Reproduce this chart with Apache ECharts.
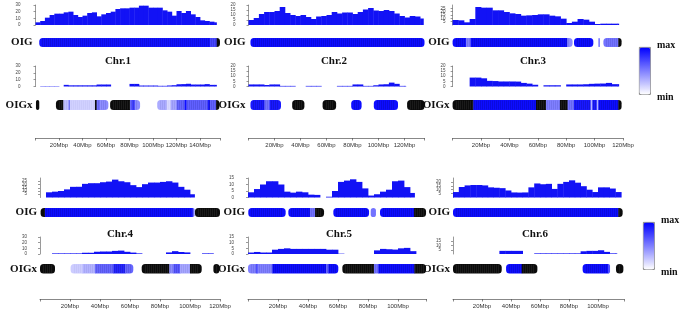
<!DOCTYPE html>
<html><head><meta charset="utf-8">
<script src="https://cdn.jsdelivr.net/npm/echarts@6/dist/echarts.min.js"></script>
<style>html,body{margin:0;padding:0;background:#fff}#c{width:685px;height:314px}</style>
</head><body><div id="c"></div>
<script>
// ---------------- DATA ----------------
const chrNames = ['Chr.1','Chr.2','Chr.3','Chr.4','Chr.5','Chr.6'];
const chrLengths = [157, 135.4, 120, 120, 119, 118];          // Mbp (axis extent)
const tickStep = 20;                                            // Mbp between x tick labels
const binSize = 4;                                              // Mbp per coverage bin
// OIG coverage per 4-Mbp bin (bin 0 starts at 0 Mbp); null = no data
const oigCov1 = [4,6,11,15,17,17,19,20,15,12,14,18,19,13,16,18,20,24,25,25,26,26,29,29,26,26,26,22,20,14,21,18,21,16,12,7,6,5,4];
const oigCov2 = [5,7,11,13,13,14,18,12,10,9,10,8,6,8.5,9,10,13,11.5,12.5,12.5,11,13,15.5,17,14.5,14,15,14,11.5,9,7.5,9,8.5,6.5];
const oigCov3 = [7.5,7,4,9,27,26,26,22,22,19.5,17.5,16.5,14,14.5,15,16,16,14,13,9.5,3,5,9,8,5,1.5,2,2,2,2];
const oigCov4 = [null,8,9,10,12.5,16.4,16.5,21,22,22,23.5,24.5,27.5,25,23.5,19,16,20.5,23,23,24,25,23,16.4,12,5];
const oigCov5 = [4,6.5,10,12.5,12.5,10,4.5,3.75,4.5,4,2.2,2,null,0.6,5,12,13,14,12,7,1.5,2.5,4.5,6,12.5,13,8,3.5];
const oigCov6 = [7,13.5,15.5,16,16,15.5,13,12.5,12,9,6.5,6.3,6.5,13,18,17,17.5,11,17.5,20,22,19,14.5,10,7,13,13,11.5,7];
const oigCovEnd = [154, 134.5, 117, 103, 111, 116];
// OIGx coverage per 4-Mbp bin
const oigxCov1 = [null,0.5,0.5,0.5,0.5,null,2.4,1.7,1.7,1.7,1.7,1.7,1.7,2.9,2.9,2.9,null,null,null,null,3.8,3.8,1.4,1.4,1.4,1.4,1,1,1.5,1.9,3.3,3.5,4,2.9,2.9,2.9,3.5,2.4,2.4];
const oigxCov2 = [2,2,2,1.45,2,2,0.6,0.6,0.6,null,null,0.6,0.6,0.6,null,null,null,0.6,0.6,0.6,2,2,0.6,0.6,1.2,2,2.2,3.8,2.6,0.6,0.6];
const oigxCov3 = [null,null,null,8.7,8.7,8,5.5,5.3,4.9,4.9,4.9,4.8,3.5,2.8,1.7,null,1.2,1.2,1.2,null,2,2,2,2.2,2.6,2.8,2.9,3.5,2.3,2.3];
const oigxCov4 = [null,null,1.1,1.1,1.1,1.1,1.1,2.2,2.2,4,4.4,4.4,5.5,6,3.9,2.5,1.1,null,null,null,null,2.8,5,3.5,2.8,null,null,1.1,1.1];
const oigxCov5 = [1.3,1.8,1.3,1.3,3.8,4.5,5,4.5,4.5,4.5,4.5,4.5,4.5,3.8,3.8,0.3,null,null,null,null,null,3.2,4.5,4.2,3.9,5,5.4,2.5];
const oigxCov6 = [null,null,null,null,null,null,null,null,3.7,3.7,3.7,3.7,null,null,0.74,0.74,0.74,0.74,0.74,0.74,0.74,0.74,3.2,3.7,3.7,4.4,2.5,0.74,0.74];
const oigxCovEnd = [154, 121, 117, 115.6, 112.4, 113];
// Heat bands: [startMbp, endMbp, level 0..1]; level -1 = black (absent)
const oigBand1 = [[3.2,148.5,0.93],[148.5,154.2,0.72],[154.2,157,-1]];
const oigBand2 = [[1.5,135.4,0.95]];
const oigBand3 = [[0,9.4,0.95],[9.4,12.7,0.5],[12.7,80.8,0.95],[80.8,84.5,0.45],[85.5,99.1,0.95],[102.6,103.8,0.5],[106.2,116.7,0.55],[116.7,119,-1]];
const oigBand4 = [[0.4,3.3,-1],[3.3,101.8,0.95],[101.8,103,0.6],[103.3,120,-1]];
const oigBand5 = [[0.2,25.1,0.95],[26.9,41.3,0.95],[41.3,44.7,0.55],[44.7,50.7,-1],[56.9,80.7,0.95],[81.8,85.3,0.55],[88,110.7,0.95],[110.7,118.7,-1]];
const oigBand6 = [[0,114,0.95],[114,117,-1]];
const oigxBand1 = [[0.4,3.2,-1],[17.4,23.7,-1],[23.7,28,0.25],[28,29.4,0.5],[29.4,50.6,0.18],[50.6,52,-1],[52,55,0.55],[55,62,0.45],[63.5,80.4,-1],[80.4,82,0.6],[82,84.5,0.75],[84.5,89,0.45],[103.6,111.6,0.33],[111.6,115,0.15],[115,120,0.35],[120,127,0.6],[127,128.5,0.95],[128.5,146.6,0.62],[146.6,148.6,0.9],[148.6,153.7,0.62],[153.7,156.5,-1]];
const oigxBand2 = [[1.5,12.3,0.9],[12.3,16.2,0.55],[16.2,25,0.9],[33.6,43,-1],[57,67.4,-1],[79,87,0.95],[96.4,115,0.95],[122,135.4,-1]];
const oigxBand3 = [[0,14.6,-1],[14.6,58.7,0.95],[58.7,65.8,-1],[65.8,75.6,0.5],[75.6,81,-1],[81,85.5,0.55],[85.5,97.2,0.9],[97.2,98.4,0.3],[98.4,101.5,0.9],[101.5,102.6,0.3],[102.6,116.7,0.95],[116.7,119,-1]];
const oigxBand4 = [[0,10,-1],[20.4,28.4,0.2],[28.4,36.7,0.3],[36.7,48.9,0.6],[48.9,56.7,0.85],[56.7,62.2,0.6],[67.8,86.2,-1],[86.2,88.9,0.45],[88.9,93.3,0.65],[93.3,100,0.35],[100,107.8,-1],[115.6,119.6,-1]];
const oigxBand5 = [[0,5.3,0.5],[5.3,6.4,0.7],[6.4,16.2,0.5],[16.2,52,0.95],[52,53.6,0.6],[53.6,60.2,0.95],[62.9,84,-1],[84,86.9,0.55],[86.9,110.9,0.95],[110.9,118.7,-1]];
const oigxBand6 = [[0,33.6,-1],[36.6,47.4,0.95],[47.4,58.2,-1],[89.4,107.1,0.95],[107.1,108.3,0.7],[112.4,117.5,-1]];
// y-axis scales of the coverage tracks [max, interval]
const oigYScale  = [[30,10],[20,5],[30,5],[30,5],[15,5],[25,5]];
const oigxYScale = [[30,10],[20,5],[20,5],[30,10],[15,5],[20,5]];
const rowLabels = ['OIG','OIGx'];
const legendText = ['max','min'];

// ---------------- LAYOUT ----------------
const panels = [
  {ox:35.5, ppm:1.175, row:0, yOff:14, tx:118},
  {ox:248.5,ppm:1.3,   row:0, yOff:12, tx:334},
  {ox:452.6,ppm:1.42,  row:0, yOff:6,  tx:533},
  {ox:40,   ppm:1.5,   row:1, yOff:12, tx:120},
  {ox:248,  ppm:1.5,   row:1, yOff:13, tx:339},
  {ox:453,  ppm:1.45,  row:1, yOff:11, tx:535}
];
const rows = [
  {hist:[5,25],   band:[38,47],  title:61,  histX:[66,86.5], bandX:[100,110],  axis:138, leg:47},
  {hist:[178,197.5],band:[208,217],title:234, histX:[237,254],  bandX:[264,273.5],axis:299, leg:222}
];
const oigCov = [oigCov1,oigCov2,oigCov3,oigCov4,oigCov5,oigCov6];
const oigxCov = [oigxCov1,oigxCov2,oigxCov3,oigxCov4,oigxCov5,oigxCov6];
const oigBand = [oigBand1,oigBand2,oigBand3,oigBand4,oigBand5,oigBand6];
const oigxBand = [oigxBand1,oigxBand2,oigxBand3,oigxBand4,oigxBand5,oigxBand6];

function levelColor(v){
  if (v < 0) return '#0b0b0b';
  const c = Math.round(255*(1-v));
  return 'rgb('+c+','+c+',255)';
}
function binsToData(arr, end){
  const out=[];
  arr.forEach((v,i)=>{ if(v==null) return; const s=i*binSize; const e=Math.min((i+1)*binSize, end); if(e>s) out.push([s,e,v]); });
  return out;
}
function bandToData(segs){
  return segs.map((s,i)=>{
    const prev=segs[i-1], next=segs[i+1];
    const rl = (!prev || prev[1] < s[0]-0.05) ? 1 : 0;
    const rr = (!next || next[0] > s[1]+0.05) ? 1 : 0;
    return [s[0], s[1], s[2], rl, rr];
  });
}
function histRender(params, api){
  const p0=api.coord([api.value(0),0]), p1=api.coord([api.value(1),api.value(2)]);
  return {type:'rect', shape:{x:p0[0], y:p1[1], width:p1[0]-p0[0]+0.4, height:p0[1]-p1[1]}, style:{fill:'#1212f5'}};
}
function bandRender(params, api){
  const p0=api.coord([api.value(0),1]), p1=api.coord([api.value(1),0]);
  const r=3.5, rl=api.value(3), rr=api.value(4), v=api.value(2);
  const w=p1[0]-p0[0]+(rr?0:0.4), h=p1[1]-p0[1];
  const children=[{type:'rect', shape:{x:p0[0], y:p0[1], width:w, height:h, r:[rl?r:0, rr?r:0, rr?r:0, rl?r:0]}, style:{fill:levelColor(v)}}];
  const x0=p0[0]+(rl?2.5:0.5), x1=p0[0]+w-(rr?2.5:0.5);
  const stroke = v<0 ? 'rgba(90,90,90,0.35)' : 'rgba(0,0,90,'+(0.35*v).toFixed(2)+')';
  for (let x=Math.ceil(x0)+0.5; x<x1; x+=2) children.push({type:'line', shape:{x1:x, y1:p0[1]+0.5, x2:x, y2:p0[1]+h-0.5}, style:{stroke, lineWidth:0.6}});
  return {type:'group', children};
}

const grid=[], xAxis=[], yAxis=[], series=[], graphic=[];
const serif='"Liberation Serif", "Times New Roman", serif';
const sans='"Liberation Sans", Arial, sans-serif';
let dummyIdx = [];
panels.forEach((p,i)=>{
  const R=rows[p.row], len=chrLengths[i], w=len*p.ppm;
  const mk=(top,bottom)=>{ grid.push({left:p.ox, top:top, width:w, height:bottom-top}); return grid.length-1; };
  const hiddenX = g => { xAxis.push({gridIndex:g, type:'value', min:0, max:len, show:false}); return xAxis.length-1; };
  const covY = (g,sc) => { yAxis.push({gridIndex:g, type:'value', min:0, max:sc[0], interval:sc[1], offset:p.yOff,
      axisLine:{show:true, lineStyle:{color:'#555', width:0.6}}, axisTick:{show:true, length:2, lineStyle:{color:'#555', width:0.6}},
      axisLabel:{fontSize:4.5, color:'#444', margin:1, fontFamily:sans}, splitLine:{show:false}}); return yAxis.length-1; };
  const bandY = g => { yAxis.push({gridIndex:g, type:'value', min:0, max:1, show:false}); return yAxis.length-1; };
  let g=mk(R.hist[0],R.hist[1]); let xa=hiddenX(g), ya=covY(g,oigYScale[i]);
  series.push({type:'custom', xAxisIndex:xa, yAxisIndex:ya, renderItem:histRender, encode:{x:[0,1],y:2}, data:binsToData(oigCov[i], oigCovEnd[i]), silent:true});
  g=mk(R.band[0],R.band[1]); xa=hiddenX(g); ya=bandY(g);
  series.push({type:'custom', xAxisIndex:xa, yAxisIndex:ya, renderItem:bandRender, encode:{x:[0,1]}, data:bandToData(oigBand[i]), silent:true});
  g=mk(R.histX[0],R.histX[1]); xa=hiddenX(g); ya=covY(g,oigxYScale[i]);
  series.push({type:'custom', xAxisIndex:xa, yAxisIndex:ya, renderItem:histRender, encode:{x:[0,1],y:2}, data:binsToData(oigxCov[i], oigxCovEnd[i]), silent:true});
  g=mk(R.bandX[0],R.bandX[1]); xa=hiddenX(g); ya=bandY(g);
  series.push({type:'custom', xAxisIndex:xa, yAxisIndex:ya, renderItem:bandRender, encode:{x:[0,1]}, data:bandToData(oigxBand[i]), silent:true});
  g=mk(R.axis-1,R.axis);
  xAxis.push({gridIndex:g, type:'value', min:0, max:len, interval:tickStep, position:'bottom',
    axisLine:{show:true, onZero:false, lineStyle:{color:'#555', width:0.7}},
    axisTick:{show:true, length:2.5, lineStyle:{color:'#555', width:0.7}},
    axisLabel:{fontSize:6, color:'#333', margin:4, fontFamily:sans, showMinLabel:true, showMaxLabel:true,
      formatter:v=>(v>0 && Math.abs(v/tickStep-Math.round(v/tickStep))<1e-6) ? v+'Mbp' : ''},
    splitLine:{show:false}});
  yAxis.push({gridIndex:g, type:'value', show:false});
  series.push({type:'scatter', xAxisIndex:xAxis.length-1, yAxisIndex:yAxis.length-1, data:[], silent:true});
  if (i%3===2) dummyIdx.push(series.length-1);
  const ly=(R.band[0]+R.band[1])/2, lyx=(R.bandX[0]+R.bandX[1])/2;
  graphic.push({type:'text', x:p.ox-3, y:ly, style:{text:rowLabels[0], font:'bold 11px '+serif, fill:'#111', textAlign:'right', textVerticalAlign:'middle'}});
  graphic.push({type:'text', x:p.ox-3, y:lyx, style:{text:rowLabels[1], font:'bold 11px '+serif, fill:'#111', textAlign:'right', textVerticalAlign:'middle'}});
  graphic.push({type:'text', x:p.tx, y:R.title, style:{text:chrNames[i], font:'bold 11px '+serif, fill:'#111', textAlign:'center', textVerticalAlign:'middle'}});
});
const visualMap = rows.map((R,k)=>({type:'continuous', min:0, max:1, orient:'vertical', left:k===0?639:643, top:R.leg,
  itemWidth:11, itemHeight:47, calculable:false, seriesIndex:dummyIdx[k], inRange:{color:['#ffffff','#0000ff']},
  padding:0, borderColor:'#666', borderWidth:0.8, text:null}));
rows.forEach((R,k)=>{
  const lx = k===0?657:661;
  graphic.push({type:'text', x:lx, y:R.leg-2, style:{text:legendText[0], font:'bold 10px '+serif, fill:'#111', textVerticalAlign:'middle'}});
  graphic.push({type:'text', x:lx, y:R.leg+50, style:{text:legendText[1], font:'bold 10px '+serif, fill:'#111', textVerticalAlign:'middle'}});
});

const chart = echarts.init(document.getElementById('c'), null, {renderer:'canvas'});
chart.setOption({animation:false, grid, xAxis, yAxis, series, visualMap, graphic});
</script></body></html>
